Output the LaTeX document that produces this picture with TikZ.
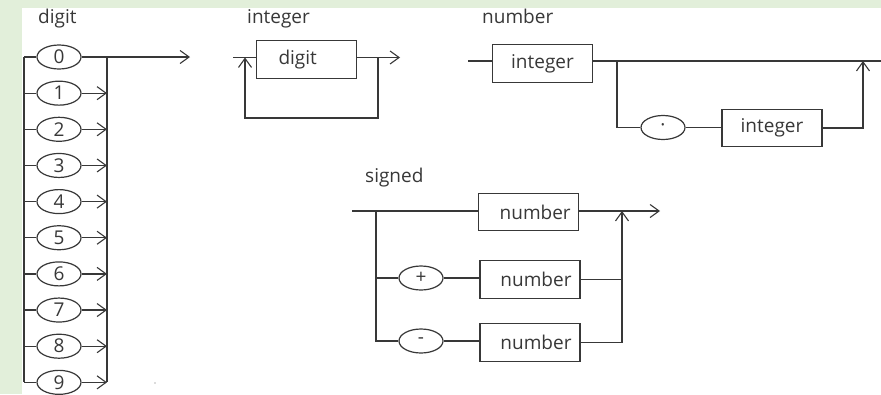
\documentclass[tikz,border=0pt]{standalone}
\usepackage{fontspec}
\setmainfont{Open Sans}
\usetikzlibrary{shapes.geometric,arrows.meta}
\definecolor{pagegreen}{HTML}{E2EFDA}
\definecolor{ink}{HTML}{383838}
\tikzset{
  x=1pt, y=-1pt,
  wire/.style={draw=ink, line width=1.2pt},
  arr/.style={wire, -{Straight Barb[length=9pt,width=13pt,line width=1.1pt]}},
  txt/.style={text=ink, font=\fontsize{19}{20}\selectfont},
  term/.style={ellipse, draw=ink, line width=1.2pt, minimum width=44pt,
    minimum height=24pt, inner sep=0pt, txt},
  nonterm/.style={rectangle, draw=ink, line width=1.2pt, minimum width=100pt,
    minimum height=37.5pt, inner sep=0pt, txt},
  title/.style={anchor=base west, inner sep=0pt, txt},
}
\begin{document}
\begin{tikzpicture}
% page and its green frame
\useasboundingbox (0,0) rectangle (881,394);
\fill[white] (0,0) rectangle (881,394);
\fill[pagegreen] (0,0) rectangle (881,7.5);
\fill[pagegreen] (0,0) rectangle (22,394);

% ---------- digit ----------
\node[title] (tdigit) at (38,23) {digit};
\foreach \i in {0,...,9}
  \node[term] (d\i) at (59,{57+36.15*\i}) {\i};
\coordinate (dleft) at (24,57);
\coordinate (djoin) at (107,57);
\coordinate (dout) at (190,57);
\draw[wire] (dleft) -- (dleft |- d9.west);
\foreach \i in {0,...,9}
  \draw[wire] (dleft |- d\i.west) -- (d\i.west);
\draw[wire] (djoin) -- (djoin |- d9.east);
\foreach \i in {1,...,9}
  \draw[arr] (d\i.east) -- (djoin |- d\i.east);
\draw[arr] (d0.east) -- (dout);
\fill[gray!55] (155,383) circle (0.8pt);

% ---------- integer ----------
\node[title] (tinteger) at (247,23) {integer};
\node[nonterm] (idigit) at (306.7,59.5) {\kern-18pt digit};
\coordinate (iin) at (233,57.5);
\coordinate (iloop) at (245,57.5);
\coordinate (iret) at (378,57.5);
\coordinate (iout) at (400,57.5);
\coordinate (ibot) at (245,118);
\draw[wire] (iin) -- (idigit.west |- iin);
\draw[arr] (idigit.east |- iin) -- (iout);
\draw[arr] (iret) -- (iret |- ibot) -- (ibot) -- (iloop);

% ---------- number ----------
\node[title] (tnumber) at (482,23) {number};
\node[nonterm] (nint1) at (542.5,63.5) {integer};
\node[term] (ndot) at (663,127.5) {·};
\node[nonterm] (nint2) at (772,128) {integer};
\coordinate (nin) at (468,61);
\coordinate (nsplit) at (617,61);
\coordinate (nmerge) at (863,61);
\coordinate (nend) at (890,61);
\draw[wire] (nin) -- (nint1.west |- nin);
\draw[wire] (nint1.east |- nin) -- (nend);
\draw[wire] (nsplit) |- (ndot.west);
\draw[wire] (ndot.east) -- (nint2.west |- ndot.east);
\draw[arr] (nint2.east) -| (nmerge);

% ---------- signed ----------
\node[title] (tsigned) at (365,182) {signed};
\node[nonterm] (sn1) at (528.7,212) {\kern13pt number};
\node[term] (splus) at (421,278) {+};
\node[nonterm] (sn2) at (530,279.5) {\kern12pt number};
\node[term] (sminus) at (421,341) {-};
\node[nonterm] (sn3) at (530,342.5) {\kern12pt number};
\coordinate (sin) at (352,211);
\coordinate (ssplit) at (376,211);
\coordinate (smerge) at (622,211);
\coordinate (sout) at (660,211);
\draw[wire] (sin) -- (sn1.west |- sin);
\draw[arr] (sn1.east |- sin) -- (sout);
\draw[wire] (ssplit) |- (sminus.west);
\draw[wire] (ssplit |- splus.west) -- (splus.west);
\draw[wire] (splus.east) -- (sn2.west |- splus.east);
\draw[wire] (sminus.east) -- (sn3.west |- sminus.east);
\draw[wire] (sn2.east) -- (sn2.east -| smerge);
\draw[arr] (sn3.east) -| (smerge);
\end{tikzpicture}
\end{document}
